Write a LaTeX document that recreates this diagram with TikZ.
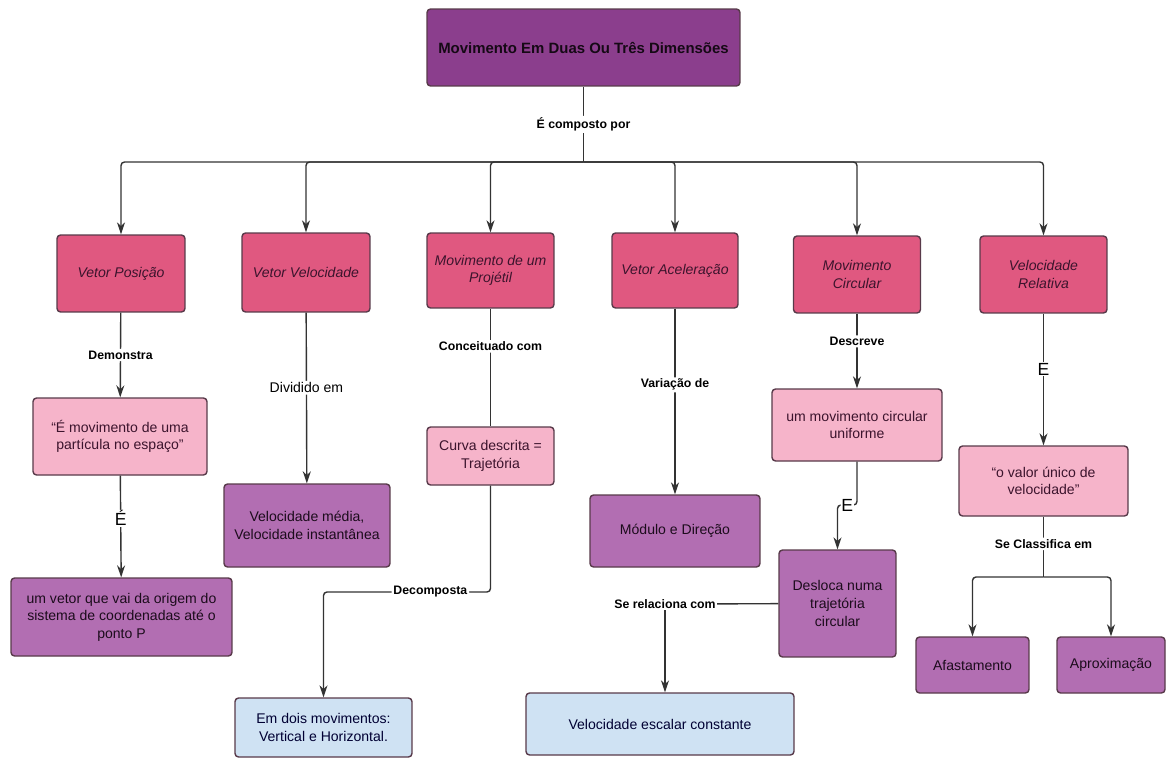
\documentclass[tikz,border=0pt]{standalone}
\usepackage{fontspec}
\setmainfont{Liberation Sans}
\usetikzlibrary{arrows.meta}
\definecolor{roxo}{RGB}{139,62,141}
\definecolor{rosa}{RGB}{224,88,128}
\definecolor{rosaclaro}{RGB}{246,180,202}
\definecolor{lilas}{RGB}{178,110,178}
\definecolor{azulclaro}{RGB}{207,226,243}
\definecolor{borda}{RGB}{88,58,74}
\definecolor{texto}{RGB}{60,20,45}
\begin{document}
\begin{tikzpicture}[x=0.02cm,y=-0.02cm,
    caixa/.style={draw=borda, line width=0.8pt, rounded corners=2pt, align=center,
      inner sep=1pt, text=texto, font=\fontsize{8}{10}\selectfont},
    topo/.style={caixa, fill=roxo, text=black!85!roxo, font=\fontsize{8.5}{10}\selectfont\bfseries},
    conceito/.style={caixa, fill=rosa, font=\fontsize{8}{10}\selectfont\itshape},
    frase/.style={caixa, fill=rosaclaro},
    resposta/.style={caixa, fill=lilas, text=black!80!roxo},
    final/.style={caixa, fill=azulclaro, text=black!80!blue},
    rot/.style={fill=white, inner sep=1pt, font=\fontsize{7}{8}\selectfont\bfseries},
    rotE/.style={fill=white, inner sep=0.5pt, font=\fontsize{10}{10}\selectfont},
    liga/.style={line width=0.8pt, draw=black!80, rounded corners=2pt},
    seta/.style={liga, -{Stealth[length=2.4mm,width=1.6mm]}}]
    \useasboundingbox (0,0) rectangle (1167,758);

    \node[topo, minimum width=6.26cm, minimum height=1.54cm] (titulo) at (583.5,47.5) {Movimento Em Duas Ou Três Dimensões};

    \node[conceito, minimum width=2.56cm, minimum height=1.54cm] (posicao) at (121,273.5) {Vetor Posição};
    \node[conceito, minimum width=2.56cm, minimum height=1.58cm] (velocidade) at (306,272.5) {Vetor Velocidade};
    \node[conceito, minimum width=2.54cm, minimum height=1.5cm] (projetil) at (490.5,270.5) {Movimento de um\\Projétil};
    \node[conceito, minimum width=2.52cm, minimum height=1.5cm] (aceleracao) at (675,270.5) {Vetor Aceleração};
    \node[conceito, minimum width=2.54cm, minimum height=1.54cm] (circular) at (857,274.5) {Movimento\\Circular};
    \node[conceito, minimum width=2.54cm, minimum height=1.54cm] (relativa) at (1043.5,274.5) {Velocidade\\Relativa};

    \node[frase, minimum width=3.48cm, minimum height=1.54cm] (particula) at (120,436.5) {“É movimento de uma\\partícula no espaço”};
    \node[resposta, minimum width=4.42cm, minimum height=1.56cm] (origem) at (121.5,617) {um vetor que vai da origem do\\sistema de coordenadas até o\\ponto P};
    \node[resposta, minimum width=3.32cm, minimum height=1.66cm] (medias) at (307,525.5) {Velocidade média,\\Velocidade instantânea};
    \node[frase, minimum width=2.54cm, minimum height=1.16cm] (curva) at (490.5,456) {Curva descrita =\\Trajetória};
    \node[final, minimum width=3.54cm, minimum height=1.18cm] (dois) at (323.5,727.5) {Em dois movimentos:\\Vertical e Horizontal.};
    \node[resposta, minimum width=3.4cm, minimum height=1.44cm] (modulo) at (675,531) {Módulo e Direção};
    \node[final, minimum width=5.36cm, minimum height=1.24cm] (escalar) at (660,724) {Velocidade escalar constante};
    \node[frase, minimum width=3.4cm, minimum height=1.44cm] (uniforme) at (857,425) {um movimento circular\\uniforme};
    \node[resposta, minimum width=2.34cm, minimum height=2.14cm] (desloca) at (837.5,603.5) {Desloca numa\\trajetória\\circular};
    \node[frase, minimum width=3.38cm, minimum height=1.4cm] (valor) at (1043.5,481) {“o valor único de\\velocidade”};
    \node[resposta, minimum width=2.26cm, minimum height=1.12cm] (afastamento) at (972.5,665) {Afastamento};
    \node[resposta, minimum width=2.16cm, minimum height=1.12cm] (aproximacao) at (1111,665) {Aproximação};

    \coordinate (barra) at (583.5,162);
    \draw[liga] (titulo) -- (barra) node[rot, midway] {É composto por};
    \foreach \n in {posicao,velocidade,projetil,aceleracao,circular,relativa}
        \draw[seta] (barra) -| (\n.north);

    \draw[seta] (posicao) -- (particula) node[rot, midway] {Demonstra};
    \draw[seta] (particula) -- (origem) node[rotE, pos=0.42] {É};
    \draw[seta] (velocidade) -- (medias) node[rot, font=\fontsize{8}{9}\selectfont, pos=0.44] {Dividido em};
    \draw[liga] (projetil) -- (curva) node[rot, pos=0.32] {Conceituado com};
    \coordinate (quebra) at (490.5,592);
    \draw[seta] (curva) -- (quebra) -| (dois.north) node[rot, pos=0.18] {Decomposta};
    \draw[seta] (aceleracao) -- (modulo) node[rot, pos=0.41] {Variação de};
    \draw[seta] (circular) -- (uniforme) node[rot, pos=0.37] {Descreve};
    \coordinate (desvio) at (857,505);
    \draw[seta] (uniforme) -- (desvio) -| (desloca.north) node[rotE, pos=0.25] {E};
    \coordinate (relacao) at (665,604);
    \draw[liga] (desloca) -- (relacao);
    \draw[seta] (relacao) -- (relacao |- escalar.north);
    \node[rot] (rotrel) at (relacao) {Se relaciona com};
    \draw[seta] (relativa) -- (valor) node[rotE, pos=0.42] {E};
    \coordinate (classe) at (1043.5,577);
    \draw[liga] (valor) -- (classe) node[rot, pos=0.45] {Se Classifica em};
    \draw[seta] (classe) -| (afastamento.north);
    \draw[seta] (classe) -| (aproximacao.north);
\end{tikzpicture}
\end{document}
